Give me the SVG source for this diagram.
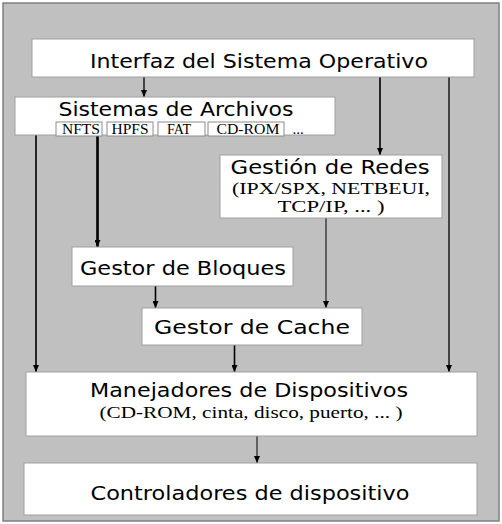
<svg xmlns="http://www.w3.org/2000/svg" width="502" height="524" viewBox="0 0 502 524">
<style>
.box{fill:#ffffff;stroke:#a0a0a0;stroke-width:1}
.sub{fill:#ffffff;stroke:#8c8c8c;stroke-width:1}
.t{font-family:"DejaVu Sans",Verdana,sans-serif;font-size:19px;fill:#000;text-anchor:middle}
.s{font-family:"Liberation Serif","Times New Roman",serif;font-size:17px;fill:#000;text-anchor:middle}
.ss{font-family:"Liberation Serif","Times New Roman",serif;font-size:15px;fill:#000;text-anchor:middle}
.c{stroke:#000;stroke-width:1.3;fill:none;marker-end:url(#ah)}
</style>
<defs>
<marker id="ah" markerUnits="userSpaceOnUse" markerWidth="7" markerHeight="6" viewBox="0 0 7 6" refX="7" refY="3" orient="auto">
<path d="M0,0 L7,3 L0,6 Z" fill="#000"/>
</marker>
</defs>
<rect x="3" y="3" width="496" height="518" fill="#c0c0c0" stroke="#7f7f7f" stroke-width="1.5"/>

<g id="connectors">
<line class="c" x1="144" y1="77" x2="144" y2="97"/>
<line class="c" x1="380" y1="77" x2="380" y2="155" style="stroke-width:1.6"/>
<line class="c" x1="449" y1="77" x2="449" y2="372"/>
<line class="c" x1="36" y1="135" x2="36" y2="372" style="stroke-width:1.6"/>
<line class="c" x1="97.5" y1="123" x2="97.5" y2="247" style="stroke-width:2.6"/>
<line class="c" x1="326" y1="218" x2="326" y2="308" style="stroke-width:1"/>
<line class="c" x1="155.5" y1="286" x2="155.5" y2="308" style="stroke-width:1.6"/>
<line class="c" x1="234.5" y1="345" x2="234.5" y2="372" style="stroke-width:1.6"/>
<line class="c" x1="257" y1="436" x2="257" y2="463" style="stroke-width:1"/>
</g>

<g id="interfaz">
<rect class="box" x="32" y="39" width="442" height="38"/>
<text class="t" x="259" y="68" textLength="338" lengthAdjust="spacingAndGlyphs">Interfaz del Sistema Operativo</text>
</g>

<g id="sistemas">
<rect class="box" x="15" y="97" width="320" height="38"/>
<text class="t" x="176" y="116" textLength="235" lengthAdjust="spacingAndGlyphs">Sistemas de Archivos</text>
<rect class="sub" x="56" y="122" width="46" height="14"/>
<text class="ss" x="81" y="134" textLength="38" lengthAdjust="spacingAndGlyphs">NFTS</text>
<rect class="sub" x="107" y="122" width="46" height="14"/>
<text class="ss" x="130" y="134" textLength="37" lengthAdjust="spacingAndGlyphs">HPFS</text>
<rect class="sub" x="158" y="122" width="47" height="14"/>
<text class="ss" x="179" y="134" textLength="24" lengthAdjust="spacingAndGlyphs">FAT</text>
<rect class="sub" x="208" y="122" width="76" height="14"/>
<text class="ss" x="248" y="134" textLength="63" lengthAdjust="spacingAndGlyphs">CD-ROM</text>
<text class="ss" x="298" y="134">...</text>
</g>

<g id="redes">
<rect class="box" x="220" y="155" width="222" height="63"/>
<text class="t" x="330" y="174" textLength="199" lengthAdjust="spacingAndGlyphs">Gestión de Redes</text>
<text class="s" x="331" y="194" textLength="198" lengthAdjust="spacingAndGlyphs">(IPX/SPX, NETBEUI,</text>
<text class="s" x="331" y="212" textLength="107" lengthAdjust="spacingAndGlyphs">TCP/IP, ... )</text>
</g>

<g id="bloques">
<rect class="box" x="72" y="247" width="221" height="39"/>
<text class="t" x="183" y="275" textLength="206" lengthAdjust="spacingAndGlyphs">Gestor de Bloques</text>
</g>

<g id="cache">
<rect class="box" x="142" y="308" width="220" height="37"/>
<text class="t" x="252" y="334" textLength="196" lengthAdjust="spacingAndGlyphs">Gestor de Cache</text>
</g>

<g id="manejadores">
<rect class="box" x="26" y="372" width="451" height="64"/>
<text class="t" x="249" y="397" textLength="318" lengthAdjust="spacingAndGlyphs">Manejadores de Dispositivos</text>
<text class="s" x="251" y="418" textLength="303" lengthAdjust="spacingAndGlyphs">(CD-ROM, cinta, disco, puerto, ... )</text>
</g>

<g id="controladores">
<rect class="box" x="24" y="463" width="453" height="52"/>
<text class="t" x="250" y="500" textLength="319" lengthAdjust="spacingAndGlyphs">Controladores de dispositivo</text>
</g>
</svg>
